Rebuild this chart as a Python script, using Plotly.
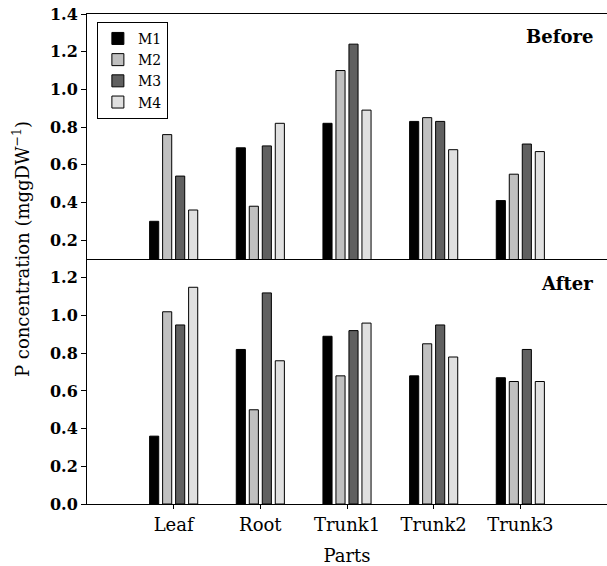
import plotly.graph_objects as go
from plotly.subplots import make_subplots

parts = ["Leaf", "Root", "Trunk1", "Trunk2", "Trunk3"]
series = ["M1", "M2", "M3", "M4"]
before_M1 = [0.30, 0.69, 0.82, 0.83, 0.41]
before_M2 = [0.76, 0.38, 1.10, 0.85, 0.55]
before_M3 = [0.54, 0.70, 1.24, 0.83, 0.71]
before_M4 = [0.36, 0.82, 0.89, 0.68, 0.67]
after_M1 = [0.36, 0.82, 0.89, 0.68, 0.67]
after_M2 = [1.02, 0.50, 0.68, 0.85, 0.65]
after_M3 = [0.95, 1.12, 0.92, 0.95, 0.82]
after_M4 = [1.15, 0.76, 0.96, 0.78, 0.65]
colors = ["#000000", "#c0c0c0", "#606060", "#e0e0e0"]

before = [before_M1, before_M2, before_M3, before_M4]
after = [after_M1, after_M2, after_M3, after_M4]

FONT = "DejaVu Serif"

fig = make_subplots(rows=2, cols=1, shared_xaxes=True, vertical_spacing=0)

for name, vals, c in zip(series, before, colors):
    fig.add_trace(go.Bar(x=parts, y=vals, name=name, marker=dict(color=c, line=dict(color="black", width=1)),
                         showlegend=True, legendgroup=name), row=1, col=1)
for name, vals, c in zip(series, after, colors):
    fig.add_trace(go.Bar(x=parts, y=vals, name=name, marker=dict(color=c, line=dict(color="black", width=1)),
                         showlegend=False, legendgroup=name), row=2, col=1)

axis_common = dict(showline=True, linecolor="black", linewidth=1, showgrid=False, zeroline=False)

fig.update_xaxes(**axis_common, type="category", range=[-1, 5])
fig.update_xaxes(row=2, col=1, ticks="outside", ticklen=4, tickcolor="black",
                 tickfont=dict(family=FONT, size=18, color="black"),
                 title=dict(text="Parts", font=dict(family=FONT, size=18, color="black"), standoff=15))
fig.update_xaxes(row=1, col=1, mirror=True, ticks="", showticklabels=False)

fig.update_yaxes(**axis_common, ticks="outside", ticklen=5, tickcolor="black",
                 tickfont=dict(family=FONT, size=16, color="black", weight="bold"), tickformat=".1f")
fig.update_yaxes(row=1, col=1, range=[0.1, 1.4], tickvals=[0.2, 0.4, 0.6, 0.8, 1.0, 1.2, 1.4])
fig.update_yaxes(row=2, col=1, range=[0, 1.3], tickvals=[0.0, 0.2, 0.4, 0.6, 0.8, 1.0, 1.2])

fig.add_annotation(text="<b>Before</b>", xref="paper", yref="paper", x=0.977, y=0.955,
                   xanchor="right", yanchor="middle", showarrow=False,
                   font=dict(family=FONT, size=18, color="black"))
fig.add_annotation(text="<b>After</b>", xref="paper", yref="paper", x=0.977, y=0.451,
                   xanchor="right", yanchor="middle", showarrow=False,
                   font=dict(family=FONT, size=18, color="black"))
fig.add_annotation(text="P concentration (mggDW<sup>−1</sup>)", xref="paper", yref="paper",
                   x=(21 - 87) / 520, y=(504 - 249) / 490, textangle=-90,
                   xanchor="center", yanchor="middle", showarrow=False,
                   font=dict(family=FONT, size=18, color="black"))

fig.update_layout(
    width=607, height=566,
    margin=dict(l=87, r=0, t=14, b=62),
    paper_bgcolor="white", plot_bgcolor="white",
    barmode="group", bargap=0.4, bargroupgap=0.3,
    font=dict(family=FONT, color="black"),
    legend=dict(x=0.019, y=0.984, xanchor="left", yanchor="top",
                bordercolor="black", borderwidth=1, bgcolor="white",
                font=dict(family=FONT, size=14, color="black"),
                tracegroupgap=0, itemwidth=30),
)

fig.write_html("out.html")
